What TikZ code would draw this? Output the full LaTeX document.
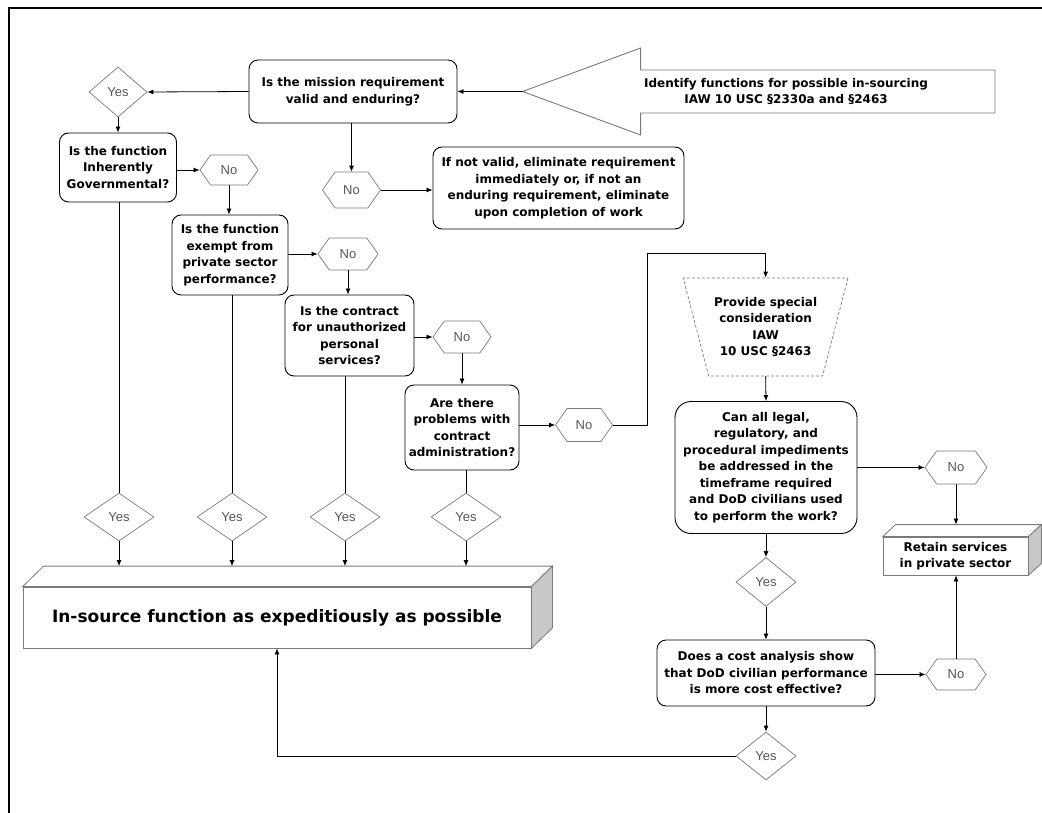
\documentclass[tikz,border=0pt]{standalone}
\usepackage{fontspec}
\setmainfont{DejaVu Sans}
\newfontfamily\lblfont{Liberation Sans}
\usetikzlibrary{shapes.geometric,shapes.symbols,arrows.meta,calc}
\definecolor{edgegray}{HTML}{7A7A7A}
\definecolor{lblgray}{HTML}{555555}
\definecolor{facegray}{HTML}{C8C8C8}
\begin{document}
\begin{tikzpicture}[x=1pt,y=-1pt,
  qbox/.style={draw=black, line width=0.9pt, rounded corners=9pt, align=center, inner sep=1pt,
    font=\bfseries\fontsize{12}{16.5}\selectfont},
  boxtext/.style={align=center, font=\bfseries\fontsize{12}{16.5}\selectfont},
  yesd/.style={diamond, draw=edgegray, line width=0.7pt, inner sep=0pt, text=lblgray,
    font=\lblfont\fontsize{13}{14}\selectfont},
  nohex/.style={signal, signal to=west and east, signal pointer angle=110, draw=edgegray,
    line width=0.7pt, inner sep=0pt, minimum width=58pt, minimum height=32pt, text=lblgray,
    font=\lblfont\fontsize{13}{14}\selectfont},
  face/.style={draw=edgegray, line width=0.8pt, fill=white},
  sideface/.style={draw=edgegray, line width=0.8pt, fill=facegray},
  conn/.style={line width=0.8pt, -{Latex[length=6pt,width=5pt]}},
  wire/.style={line width=0.8pt},
]
\useasboundingbox (0,0) rectangle (1042,813);

% page frame
\draw[line width=2.5pt] (9,813) -- (9,8) -- (1042,8);

% entry arrow
\coordinate (tip) at (522.6,91.5);
\draw[draw=edgegray, line width=0.9pt] (tip) -- (640.6,48) -- (640.6,70) -- (995,70)
  -- (995,113) -- (640.6,113) -- (640.6,135) -- cycle;
\node[boxtext] (identify) at (786,91.5) {Identify functions for possible in-sourcing\\IAW 10 USC §2330a and §2463};

% first decision
\node[qbox, minimum width=208pt, minimum height=63pt] (mission) at (353,91.5)
  {Is the mission requirement\\valid and enduring?};
\node[yesd, minimum width=58pt, minimum height=50pt] (yes0) at (118,92) {Yes};
\node[nohex, minimum height=36pt] (nom) at (351.5,190) {No};
\node[qbox, minimum width=251pt, minimum height=82pt] (notvalid) at (558.5,188)
  {If not valid, eliminate requirement\\immediately or, if not an\\enduring requirement, eliminate\\upon completion of work};

% staircase of questions
\node[qbox, minimum width=117pt, minimum height=69pt] (q1) at (118,167.5)
  {Is the function\\Inherently\\Governmental?};
\node[nohex, minimum height=30pt] (no1) at (229,170) {No};
\node[qbox, minimum width=116pt, minimum height=80pt] (q2) at (230,255)
  {Is the function\\exempt from\\private sector\\performance?};
\node[nohex, minimum width=60pt] (no2) at (348,254) {No};
\node[qbox, minimum width=129pt, minimum height=81pt] (q3) at (349.5,335.5)
  {Is the contract\\for unauthorized\\personal\\services?};
\node[nohex] (no3) at (462,337) {No};
\node[qbox, minimum width=114pt, minimum height=85pt] (q4) at (462,427.5)
  {Are there\\problems with\\contract\\administration?};
\node[nohex, minimum width=57pt, minimum height=33pt] (no4) at (584,425) {No};

% yes answers
\node[yesd, minimum width=70pt, minimum height=48pt] (yes1) at (119,517) {Yes};
\node[yesd, minimum width=70pt, minimum height=48pt] (yes2) at (232,517) {Yes};
\node[yesd, minimum width=70pt, minimum height=48pt] (yes3) at (345,517) {Yes};
\node[yesd, minimum width=70pt, minimum height=48pt] (yes4) at (466,517) {Yes};

% in-source block
\node[draw=edgegray, line width=0.8pt, minimum width=508pt, minimum height=61pt, inner sep=0pt,
  font=\bfseries\fontsize{17}{20}\selectfont] (insource) at (277,617.5)
  {In-source function as expeditiously as possible};
\draw[face] (insource.north west) -- ++(21,-20.5) -- ($(insource.north east)+(21,-20.5)$)
  -- (insource.north east) -- cycle;
\draw[sideface] (insource.north east) -- ++(21,-20.5) -- ($(insource.south east)+(21,-20.5)$)
  -- (insource.south east) -- cycle;
\coordinate (insource-back) at ($(insource.north)+(0,-20.5)$);

% special consideration branch
\coordinate (bend) at (647,253);
\node[trapezium, trapezium stretches=true, shape border rotate=180, trapezium left angle=69,
  trapezium right angle=69, minimum width=165pt, minimum height=98pt, draw=edgegray,
  line width=0.7pt, dash pattern=on 3pt off 2pt, inner sep=0pt, boxtext] (special) at (765.6,327)
  {Provide special\\consideration\\IAW\\10 USC §2463};
\node[qbox, rounded corners=16pt, minimum width=182pt, minimum height=132pt] (q5) at (766,467.5)
  {Can all legal,\\regulatory, and\\procedural impediments\\be addressed in the\\timeframe required\\and DoD civilians used\\to perform the work?};
\node[nohex, minimum width=62pt, minimum height=33pt] (no5) at (956,467.5) {No};
\node[draw=edgegray, line width=0.8pt, minimum width=145pt, minimum height=38pt, inner sep=0pt,
  boxtext] (retain) at (955.5,556) {Retain services\\in private sector};
\draw[face] (retain.north west) -- ++(13,-12) -- ($(retain.north east)+(13,-12)$)
  -- (retain.north east) -- cycle;
\draw[sideface] (retain.north east) -- ++(13,-12) -- ($(retain.south east)+(13,-12)$)
  -- (retain.south east) -- cycle;
\coordinate (retain-back) at ($(retain.north)+(0,-12)$);
\node[yesd, minimum width=60pt, minimum height=49pt] (yes5) at (766,582) {Yes};
\node[qbox, minimum width=218pt, minimum height=66pt] (q6) at (766,673)
  {Does a cost analysis show\\that DoD civilian performance\\is more cost effective?};
\node[nohex, minimum width=60pt, minimum height=31pt] (no6) at (956,674.5) {No};
\node[yesd, minimum width=60pt, minimum height=48pt] (yes6) at (766,756) {Yes};

% connectors
\draw[conn] (tip) -- (mission.east);
\draw[conn] (mission.west) -- (yes0.east);
\draw[conn] (yes0.south) -- (q1.north);
\draw[conn] (nom.north |- mission.south) -- (nom.north);
\draw[conn] (nom.east) -- (nom.east -| notvalid.west);
\draw[conn] (q1.east |- no1.west) -- (no1.west);
\draw[conn] (no1.south) -- (no1.south |- q2.north);
\draw[conn] (q2.east |- no2.west) -- (no2.west);
\draw[conn] (no2.south) -- (no2.south |- q3.north);
\draw[conn] (q3.east |- no3.west) -- (no3.west);
\draw[conn] (no3.south) -- (no3.south |- q4.north);
\draw[conn] (q4.east |- no4.west) -- (no4.west);
\draw[conn] (no4.east) -| (bend) -| (special.north);
\draw[conn] (special.south) -- (q5.north);
\draw[conn] (q5.east |- no5.west) -- (no5.west);
\draw[conn] (no5.south) -- (no5.south |- retain-back);
\draw[conn] (q5.south) -- (yes5.north);
\draw[conn] (yes5.south) -- (q6.north);
\draw[conn] (q6.east |- no6.west) -- (no6.west);
\draw[conn] (no6.north) -- (no6.north |- retain.south);
\draw[conn] (q6.south) -- (yes6.north);
\draw[conn] (yes6.west) -| (insource.south);

\draw[wire] (q1.south -| yes1.north) -- (yes1.north);
\draw[wire] (q2.south -| yes2.north) -- (yes2.north);
\draw[wire] (q3.south -| yes3.north) -- (yes3.north);
\draw[wire] (q4.south -| yes4.north) -- (yes4.north);
\draw[conn] (yes1.south) -- (yes1.south |- insource-back);
\draw[conn] (yes2.south) -- (yes2.south |- insource-back);
\draw[conn] (yes3.south) -- (yes3.south |- insource-back);
\draw[conn] (yes4.south) -- (yes4.south |- insource-back);
\end{tikzpicture}
\end{document}
